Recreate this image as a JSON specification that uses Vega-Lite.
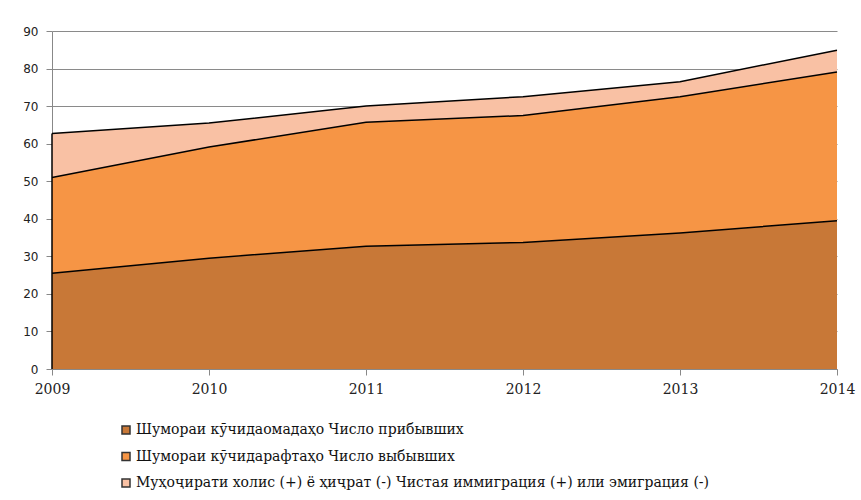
{
  "$schema": "https://vega.github.io/schema/vega-lite/v6.json",
  "width": 785,
  "height": 338,
  "autosize": {"type": "none"},
  "padding": {"left": 52, "top": 31, "right": 24, "bottom": 131},
  "background": "white",
  "config": {"view": {"stroke": null}},
  "data": {"values": [
    {"year": 2009, "order": 1, "series": "Шумораи кӯчидаомадаҳо Число прибывших", "value": 25.5},
    {"year": 2010, "order": 1, "series": "Шумораи кӯчидаомадаҳо Число прибывших", "value": 29.5},
    {"year": 2011, "order": 1, "series": "Шумораи кӯчидаомадаҳо Число прибывших", "value": 32.7},
    {"year": 2012, "order": 1, "series": "Шумораи кӯчидаомадаҳо Число прибывших", "value": 33.7},
    {"year": 2013, "order": 1, "series": "Шумораи кӯчидаомадаҳо Число прибывших", "value": 36.2},
    {"year": 2014, "order": 1, "series": "Шумораи кӯчидаомадаҳо Число прибывших", "value": 39.5},
    {"year": 2009, "order": 2, "series": "Шумораи кӯчидарафтаҳо Число выбывших", "value": 25.5},
    {"year": 2010, "order": 2, "series": "Шумораи кӯчидарафтаҳо Число выбывших", "value": 29.6},
    {"year": 2011, "order": 2, "series": "Шумораи кӯчидарафтаҳо Число выбывших", "value": 33.0},
    {"year": 2012, "order": 2, "series": "Шумораи кӯчидарафтаҳо Число выбывших", "value": 33.8},
    {"year": 2013, "order": 2, "series": "Шумораи кӯчидарафтаҳо Число выбывших", "value": 36.3},
    {"year": 2014, "order": 2, "series": "Шумораи кӯчидарафтаҳо Число выбывших", "value": 39.6},
    {"year": 2009, "order": 3, "series": "Муҳоҷирати холис (+) ё ҳиҷрат (-) Чистая иммиграция (+) или эмиграция (-)", "value": 11.7},
    {"year": 2010, "order": 3, "series": "Муҳоҷирати холис (+) ё ҳиҷрат (-) Чистая иммиграция (+) или эмиграция (-)", "value": 6.4},
    {"year": 2011, "order": 3, "series": "Муҳоҷирати холис (+) ё ҳиҷрат (-) Чистая иммиграция (+) или эмиграция (-)", "value": 4.3},
    {"year": 2012, "order": 3, "series": "Муҳоҷирати холис (+) ё ҳиҷрат (-) Чистая иммиграция (+) или эмиграция (-)", "value": 5.0},
    {"year": 2013, "order": 3, "series": "Муҳоҷирати холис (+) ё ҳиҷрат (-) Чистая иммиграция (+) или эмиграция (-)", "value": 4.0},
    {"year": 2014, "order": 3, "series": "Муҳоҷирати холис (+) ё ҳиҷрат (-) Чистая иммиграция (+) или эмиграция (-)", "value": 5.8}
  ]},
  "encoding": {
    "x": {
      "field": "year", "type": "quantitative",
      "scale": {"domain": [2009, 2014], "nice": false, "zero": false},
      "axis": {
        "title": null, "values": [2009, 2010, 2011, 2012, 2013, 2014], "format": "d",
        "grid": false, "domainColor": "#888888", "tickColor": "#888888", "tickSize": 6,
        "labelFont": "DejaVu Serif", "labelFontSize": 14, "labelColor": "#222222",
        "labelPadding": 7, "labelFlush": false
      }
    },
    "y": {
      "field": "value", "type": "quantitative", "stack": "zero",
      "scale": {"domain": [0, 90], "nice": false},
      "axis": {
        "title": null, "values": [0, 10, 20, 30, 40, 50, 60, 70, 80, 90],
        "gridColor": "#8a8a8a", "gridWidth": 1, "domainColor": "#888888",
        "tickColor": "#888888", "tickSize": 6, "labelFont": "DejaVu Sans",
        "labelFontSize": 12, "labelColor": "#222222", "labelPadding": 8
      }
    }
  },
  "layer": [
    {
      "mark": {"type": "area", "opacity": 1},
      "encoding": {
        "order": {"field": "order", "type": "quantitative"},
        "color": {
          "field": "series", "type": "nominal",
          "sort": ["Шумораи кӯчидаомадаҳо Число прибывших", "Шумораи кӯчидарафтаҳо Число выбывших", "Муҳоҷирати холис (+) ё ҳиҷрат (-) Чистая иммиграция (+) или эмиграция (-)"],
          "scale": {
            "domain": ["Шумораи кӯчидаомадаҳо Число прибывших", "Шумораи кӯчидарафтаҳо Число выбывших", "Муҳоҷирати холис (+) ё ҳиҷрат (-) Чистая иммиграция (+) или эмиграция (-)"],
            "range": ["#C87837", "#F69545", "#F9C1A4"]
          },
          "legend": {
            "title": null, "orient": "none", "legendX": 67, "legendY": 392,
            "direction": "vertical", "symbolType": "square", "symbolSize": 64,
            "symbolStrokeColor": "#333333", "symbolStrokeWidth": 1.5, "symbolOpacity": 1,
            "labelFont": "DejaVu Serif", "labelFontSize": 14, "labelColor": "#111111",
            "labelLimit": 0, "rowPadding": 12.5, "labelOffset": 3
          }
        }
      }
    },
    {
      "mark": {"type": "line", "color": "#000000", "strokeWidth": 1.5},
      "encoding": {
        "order": {"field": "order", "type": "quantitative"},
        "detail": {"field": "series", "type": "nominal"}
      }
    },
    {
      "transform": [
        {"filter": "datum.year == 2009"},
        {"aggregate": [{"op": "sum", "field": "value", "as": "total"}], "groupby": ["year"]}
      ],
      "mark": {"type": "rule", "color": "#000000", "strokeWidth": 1.5},
      "encoding": {
        "y": {"field": "total", "type": "quantitative", "stack": null},
        "y2": {"datum": 0}
      }
    }
  ]
}
